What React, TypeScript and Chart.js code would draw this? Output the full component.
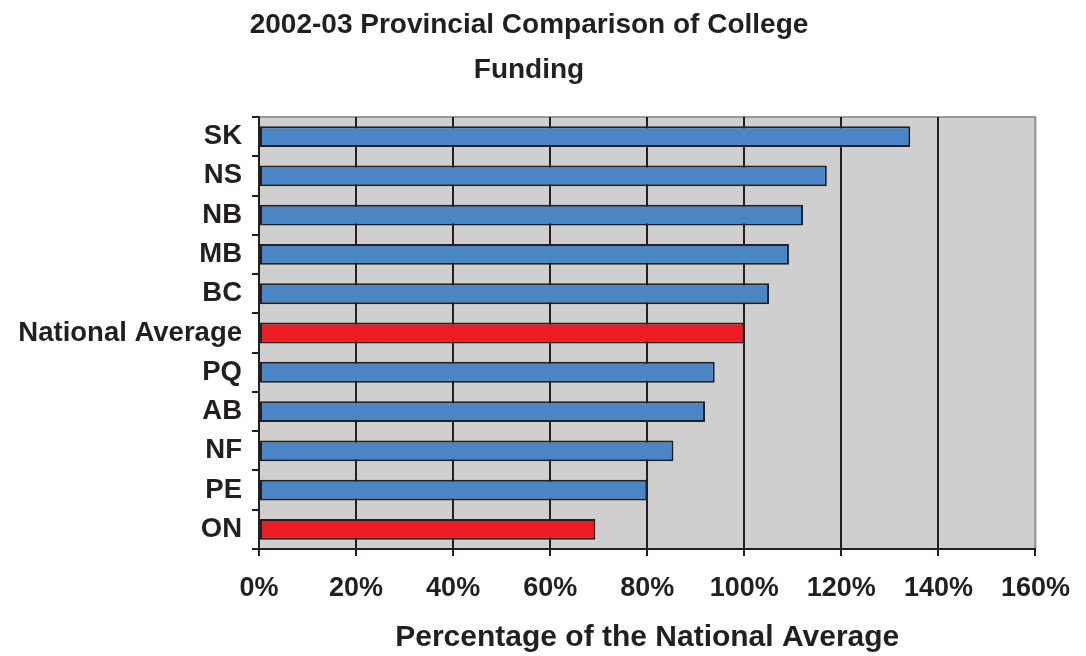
import { useEffect, useRef } from "react";
import { Chart, registerables } from "chart.js";

Chart.register(...registerables);

// Chart text
const TITLE_LINES = ["2002-03 Provincial Comparison of College", "Funding"];
const X_AXIS_TITLE = "Percentage of the National Average";

// Funding per province as a percentage of the national average (top to bottom)
const PROVINCES = ["SK", "NS", "NB", "MB", "BC", "National Average", "PQ", "AB", "NF", "PE", "ON"];
const FUNDING_PCT = [134.2, 117.0, 112.1, 109.2, 105.1, 100, 93.9, 91.9, 85.4, 80.0, 69.3];
const HIGHLIGHTED = ["National Average", "ON"];

// Axis range
const X_MIN = 0;
const X_MAX = 160;
const X_STEP = 20;

const FONT_FAMILY = "'Liberation Sans', Arial, Helvetica, sans-serif";
const INK = "#231f20";
const BLUE = "#4a86c5";
const RED = "#ed1c24";
const PLOT_BG = "#cfcfcf";
const FRAME = "#9a9a9a";

const plotBackground = {
  id: "plotBackground",
  beforeDraw(chart: any) {
    const { ctx, chartArea } = chart;
    const { left, top, right, bottom } = chartArea;
    ctx.save();
    ctx.fillStyle = PLOT_BG;
    ctx.fillRect(left, top, right - left, bottom - top);
    ctx.strokeStyle = FRAME;
    ctx.lineWidth = 2;
    ctx.beginPath();
    ctx.moveTo(left, top);
    ctx.lineTo(right, top);
    ctx.lineTo(right, bottom);
    ctx.stroke();
    ctx.restore();
  },
};

const chartTitle = {
  id: "chartTitle",
  afterDraw(chart: any) {
    const { ctx } = chart;
    ctx.save();
    ctx.fillStyle = INK;
    ctx.font = `bold 28px ${FONT_FAMILY}`;
    ctx.textAlign = "center";
    ctx.textBaseline = "alphabetic";
    const cx = 529;
    TITLE_LINES.forEach((line, i) => {
      ctx.fillText(line, cx, 33 + i * 45);
    });
    ctx.restore();
  },
};

export default function App() {
  const canvasRef = useRef<HTMLCanvasElement | null>(null);

  useEffect(() => {
    const canvas = canvasRef.current;
    if (!canvas) return;

    const colors = PROVINCES.map((p) => (HIGHLIGHTED.includes(p) ? RED : BLUE));

    const chart = new Chart(canvas, {
      type: "bar",
      data: {
        labels: PROVINCES,
        datasets: [
          {
            data: FUNDING_PCT,
            backgroundColor: colors,
            borderColor: INK,
            borderWidth: 2,
            borderSkipped: false,
            barPercentage: 0.53,
            categoryPercentage: 1,
          },
        ],
      },
      options: {
        indexAxis: "y",
        responsive: false,
        animation: false,
        events: [],
        layout: { padding: { left: 0, right: 49, top: 117, bottom: 0 } },
        plugins: {
          legend: { display: false },
          tooltip: { enabled: false },
          title: { display: false },
        },
        scales: {
          x: {
            type: "linear",
            min: X_MIN,
            max: X_MAX,
            afterFit: (scale: any) => {
              scale.height = 107;
            },
            ticks: {
              stepSize: X_STEP,
              callback: (v: any) => `${v}%`,
              font: { family: FONT_FAMILY, size: 27, weight: "bold" },
              color: INK,
              padding: 16,
              maxRotation: 0,
              autoSkip: false,
            },
            grid: {
              color: (ctx: any) => (ctx.tick && ctx.tick.value === X_MAX ? FRAME : INK),
              tickColor: INK,
              lineWidth: 2,
              tickLength: 7,
            },
            border: { display: true, color: INK, width: 2 },
            title: {
              display: true,
              text: X_AXIS_TITLE,
              font: { family: FONT_FAMILY, size: 30, weight: "bold" },
              color: INK,
              padding: { top: 0, bottom: 0 },
            },
          },
          y: {
            type: "category",
            afterFit: (scale: any) => {
              scale.width = 259;
            },
            ticks: {
              font: { family: FONT_FAMILY, size: 27.5, weight: "bold" },
              color: INK,
              padding: 10,
              autoSkip: false,
            },
            grid: {
              offset: true,
              drawOnChartArea: false,
              color: INK,
              lineWidth: 2,
              tickLength: 7,
            },
            border: { display: true, color: INK, width: 2 },
          },
        },
      },
      plugins: [plotBackground, chartTitle],
    });

    return () => {
      chart.destroy();
    };
  }, []);

  return (
    <div style={{ position: "absolute", left: 0, top: 0, width: 1086, height: 656, background: "#ffffff" }}>
      <canvas ref={canvasRef} width={1086} height={656} style={{ display: "block" }} />
    </div>
  );
}
